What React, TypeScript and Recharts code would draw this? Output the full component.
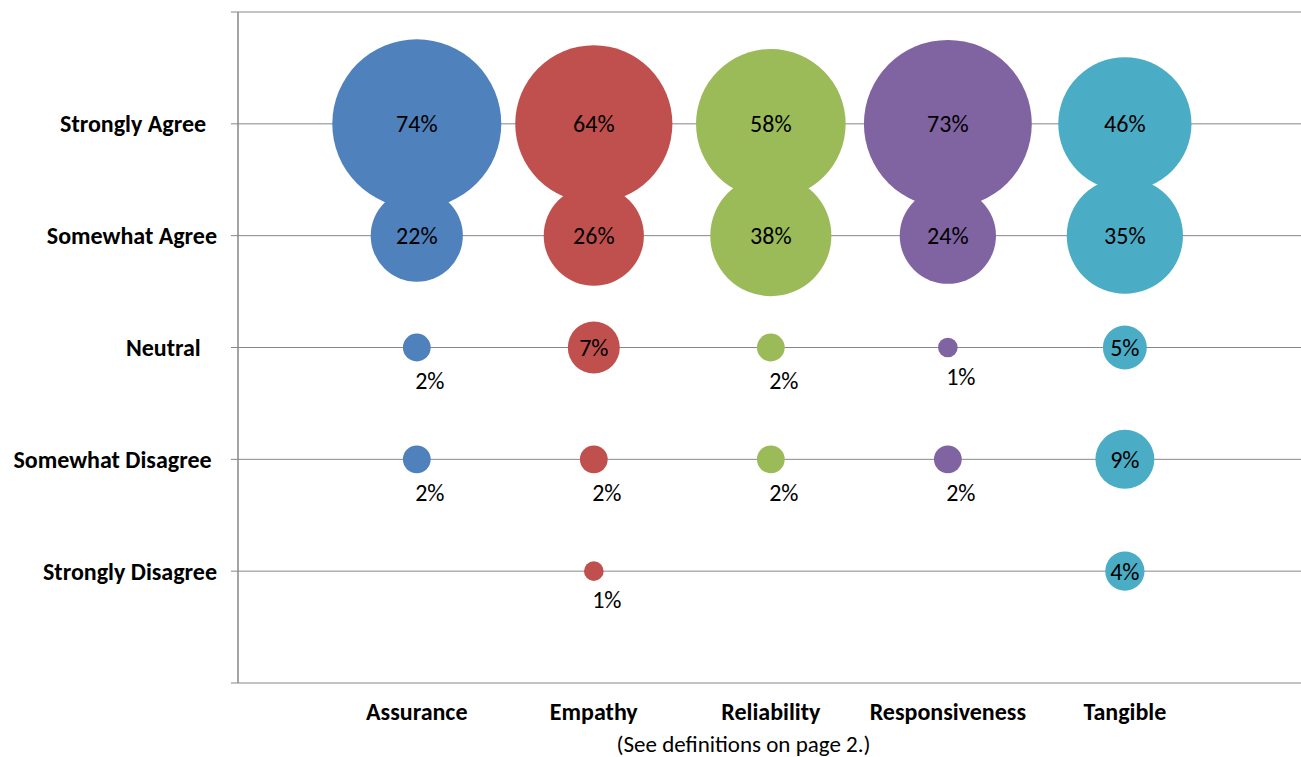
import React from 'react';
import { ScatterChart, Scatter, XAxis, YAxis, ZAxis, CartesianGrid } from 'recharts';

// Categories along the X axis
const categories = ['Assurance', 'Empathy', 'Reliability', 'Responsiveness', 'Tangible'];
// Y levels (index 1..5), bottom to top; trailing spaces as in the original labels
const levelLabels = ['', 'Strongly Disagree', 'Somewhat Disagree ', 'Neutral   ', 'Somewhat Agree', 'Strongly Agree  ', ''];
// Percentages per category, order: Strongly Disagree, Somewhat Disagree, Neutral, Somewhat Agree, Strongly Agree
const assurance = [null, 2, 2, 22, 74];
const empathy = [1, 2, 7, 26, 64];
const reliability = [null, 2, 2, 38, 58];
const responsiveness = [null, 2, 1, 24, 73];
const tangible = [4, 9, 5, 35, 46];
const colors = ['#4F81BD', '#C0504D', '#9BBB59', '#8064A2', '#4BACC6'];
const footnote = '(See definitions on page 2.)';

const seriesValues = [assurance, empathy, reliability, responsiveness, tangible];
const FONT = 'Carlito, Calibri, Lato, sans-serif';

const seriesData = seriesValues.map((vals, i) =>
  vals
    .map((v, j) => (v == null ? null : { x: i + 1, y: j + 1, z: v }))
    .filter((d) => d !== null)
    .reverse()
);
const allData = seriesData.flat();

const radiusOf = (p: any) => (p.size != null ? Math.sqrt(Math.max(p.size, 0) / Math.PI) : (p.width || 0) / 2);

const makeCircle = (color: string) => (p: any) => (
  <circle cx={p.cx} cy={p.cy} r={radiusOf(p)} fill={color} />
);

const LabelShape = (p: any) => {
  const v = p.payload.z;
  const r = radiusOf(p);
  const inside = v >= 4;
  return (
    <text
      x={inside ? p.cx : p.cx + 13}
      y={inside ? p.cy : p.cy + r + 19}
      textAnchor="middle"
      dominantBaseline="central"
      fontFamily={FONT}
      fontSize={24}
      fill="#000"
    >
      {v + '%'}
    </text>
  );
};

const YTick = (p: any) => {
  const label = levelLabels[p.payload.value] || '';
  return (
    <text
      x={p.x - 14}
      y={p.y}
      textAnchor="end"
      dominantBaseline="central"
      fontFamily={FONT}
      fontWeight="bold"
      fontSize={24}
      fill="#000"
      style={{ whiteSpace: 'pre' }}
    >
      {label}
    </text>
  );
};

const XTick = (p: any) => (
  <text
    x={p.x}
    y={p.y + 28}
    textAnchor="middle"
    dominantBaseline="central"
    fontFamily={FONT}
    fontWeight="bold"
    fontSize={24}
    fill="#000"
  >
    {categories[p.payload.value - 1]}
  </text>
);

const FootLabel = (p: any) => {
  const vb = p.viewBox;
  return (
    <text
      x={vb.x + vb.width / 2 - 26}
      y={vb.y + 61}
      textAnchor="middle"
      dominantBaseline="central"
      fontFamily={FONT}
      fontSize={23}
      fill="#000"
    >
      {footnote}
    </text>
  );
};

export default function App() {
  return (
    <div style={{ position: 'absolute', left: 0, top: 0, width: 1301, height: 757, background: '#fff' }}>
      <ScatterChart width={1301} height={757} margin={{ top: 12, right: 0, bottom: 0, left: 0 }}>
        <CartesianGrid vertical={false} stroke="#878787" strokeWidth={1} />
        <XAxis
          type="number"
          dataKey="x"
          domain={[-0.01, 5.995]}
          allowDataOverflow
          ticks={[1, 2, 3, 4, 5]}
          axisLine={false}
          tickLine={false}
          tickSize={0}
          tickMargin={0}
          height={74}
          tick={<XTick />}
          interval={0}
          label={<FootLabel />}
        />
        <YAxis
          type="number"
          dataKey="y"
          domain={[0, 6]}
          ticks={[0, 1, 2, 3, 4, 5, 6]}
          width={238}
          axisLine={{ stroke: '#878787', strokeWidth: 1.5 }}
          tickLine={{ stroke: '#878787' }}
          tickSize={7}
          tickMargin={0}
          tick={<YTick />}
          interval={0}
        />
        <ZAxis type="number" dataKey="z" domain={[0, 74]} range={[0, Math.PI * 84.5 * 84.5]} />
        {seriesData.map((d, i) => (
          <Scatter
            key={categories[i]}
            name={categories[i]}
            data={d}
            fill={colors[i]}
            shape={makeCircle(colors[i])}
            isAnimationActive={false}
          />
        ))}
        <Scatter name="labels" data={allData} shape={LabelShape} isAnimationActive={false} />
      </ScatterChart>
    </div>
  );
}
